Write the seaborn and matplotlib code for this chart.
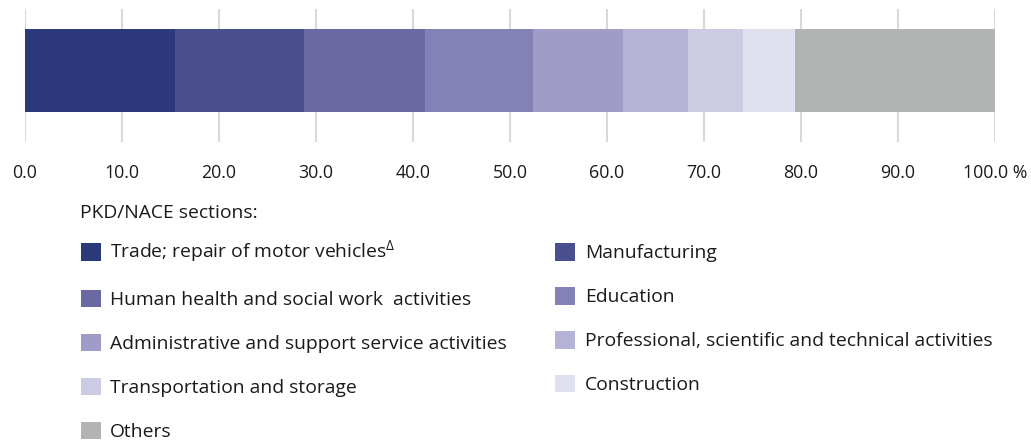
import matplotlib
matplotlib.use("Agg")
import matplotlib.pyplot as plt
import matplotlib.patches as mpatches
import seaborn as sns
import numpy as np
import pandas as pd

# ---- data ----
sections = [
    "Trade; repair of motor vehicles$^{\\Delta}$",
    "Manufacturing",
    "Human health and social work  activities",
    "Education",
    "Administrative and support service activities",
    "Professional, scientific and technical activities",
    "Transportation and storage",
    "Construction",
    "Others",
]
shares = [15.5, 13.3, 12.45, 11.15, 9.3, 6.6, 5.7, 5.4, 20.6]
colors = ["#2b3879", "#4a4f8e", "#6a69a2", "#8381b5", "#9f9dc7",
          "#b5b4d6", "#cbcbe4", "#e0e0ef", "#b2b3b3"]
tick_values = [0, 10, 20, 30, 40, 50, 60, 70, 80, 90, 100]
tick_labels = ["0.0", "10.0", "20.0", "30.0", "40.0", "50.0",
               "60.0", "70.0", "80.0", "90.0", "100.0 %"]
legend_title = "PKD/NACE sections:"

sns.set_theme(style="white")
plt.rcParams["font.family"] = ["Open Sans", "DejaVu Sans"]
plt.rcParams["mathtext.fontset"] = "custom"
plt.rcParams["mathtext.rm"] = "Open Sans"

fig = plt.figure(figsize=(10.31, 4.43), dpi=100)
W, H = 1031, 443
ax = fig.add_axes([25 / W, 1 - 142 / H, (995 - 25) / W, (142 - 9) / H])

cum = np.cumsum(shares)
df = pd.DataFrame({"group": ["all"] * len(shares), "cum": cum, "color": colors})

# draw cumulative bars from longest to shortest so they stack visually
for i in range(len(shares) - 1, -1, -1):
    sns.barplot(data=df.iloc[[i]], x="cum", y="group", orient="h",
                color=colors[i], width=0.624, linewidth=0, saturation=1,
                ax=ax, zorder=3)

ax.set_xlim(0, 100)
ax.set_ylim(0.5376, -0.4624)
ax.set_xticks(tick_values)
ax.set_xticklabels(tick_labels, fontsize=12.8, color="#1a1a1a")
ax.tick_params(axis="x", length=0, pad=16)
ax.set_yticks([])
ax.set_xlabel("")
ax.set_ylabel("")
for x in tick_values:
    ax.axvline(x, color="#d9d9d9", linewidth=1.5, zorder=1)
for s in ax.spines.values():
    s.set_visible(False)
ax.grid(False)

# legend title
fig.text(80 / W, 1 - 213 / H, legend_title, fontsize=13.9, color="#1a1a1a",
         ha="left", va="center")

# legend: column-major order for 2 columns
order = [0, 2, 4, 6, 8, 1, 3, 5, 7]
handles = [mpatches.Patch(facecolor=colors[i], edgecolor="none", label=sections[i])
           for i in order]
leg = fig.legend(handles=handles, loc="upper left",
                 bbox_to_anchor=(73 / W, 1 - 231 / H), ncol=2, frameon=False,
                 fontsize=13.9, handlelength=1.03, handleheight=1.03,
                 handletextpad=0.5, labelspacing=1.27, columnspacing=2.5,
                 borderaxespad=0)
for t in leg.get_texts():
    t.set_color("#1a1a1a")

fig.savefig("out.png", dpi=100)
